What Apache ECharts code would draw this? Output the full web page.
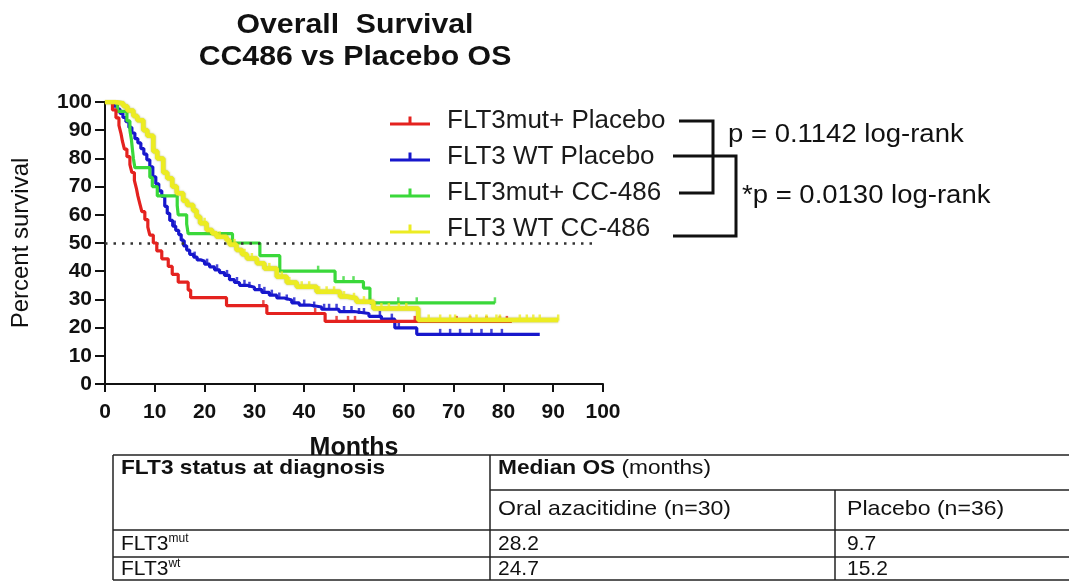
<!DOCTYPE html>
<html>
<head>
<meta charset="utf-8">
<title>Overall Survival — CC486 vs Placebo OS</title>
<script src="https://cdn.jsdelivr.net/npm/echarts@6/dist/echarts.min.js"></script>
<style>
  html, body { margin: 0; padding: 0; background: #ffffff; }
  #chart { width: 1069px; height: 581px; }
</style>
</head>
<body>
<div id="chart"></div>
<script>
// Kaplan–Meier step data: months at each event and survival (%) after it.
// The last point of each arm is its final censored follow-up time.
const mutPlaceboTime = [0, 1.5, 2.2, 2.8, 3.2, 3.5, 3.9, 4.4, 5.0, 5.4, 5.9, 6.3, 6.6, 7.0, 7.4, 8.0, 8.6, 9.0, 9.7, 10.4, 11.4, 12.7, 13.5, 14.7, 16.7, 17.2, 24.4, 32.5, 44.2, 81.7];
const mutPlaceboSurv = [100, 97.2, 94.4, 91.7, 88.9, 86.1, 83.3, 80.6, 77.8, 75.0, 72.2, 69.4, 66.7, 63.9, 61.1, 58.3, 55.6, 52.8, 50.0, 47.2, 44.4, 41.7, 38.9, 36.1, 33.3, 30.6, 27.8, 25.0, 22.2, 22.2];
const mutPlaceboCensor = [31.8, 42.2, 46.5, 48.8, 50.2, 62.2, 70.6, 73.3, 76.6, 79.3, 80.7];

const wtPlaceboTime = [0, 1, 1.8, 2.5, 3, 3.6, 4.2, 4.8, 5.4, 6, 6.6, 7.2, 7.8, 8.4, 9, 9.6, 10.2, 10.8, 11.4, 12, 12.5, 13, 13.6, 14.2, 14.8, 15.3, 15.8, 16.4, 17, 17.8, 18.5, 19.3, 20, 21, 22, 23, 24, 25, 26, 27, 28.5, 30, 31.5, 33, 34.5, 36, 37.5, 39, 41, 43.5, 47, 50, 53, 55.5, 58.2, 62.6, 87.3];
const wtPlaceboSurv = [100, 99.5, 98.5, 97.5, 96, 94.5, 93, 91, 89, 87, 85.5, 83.5, 81.5, 79.5, 77, 73.5, 71, 68.5, 66.5, 63, 60.5, 58, 56, 54.5, 53, 51, 49, 47.5, 46, 45, 44, 43.5, 42.5, 41.5, 40.5, 39.5, 38.5, 37, 36, 35, 34.3, 33.5, 32.5, 31.5, 30.5, 29.8, 28.8, 28, 27.3, 26.5, 25.7, 25, 24, 23, 19.9, 17.6, 17.6];
const wtPlaceboCensor = [14, 16, 18, 20.5, 22.5, 24.5, 26.5, 28, 29, 31, 32, 33.5, 35, 36.5, 38, 40, 42, 44, 45, 46.5, 48, 49.5, 51, 52, 55.2, 57.6, 59, 67.3, 69.3, 71.3, 73.6, 75.6, 77.6, 79.7];

const mutAzaTime = [0, 2.5, 4.4, 5.0, 5.3, 5.5, 5.7, 6.0, 9.0, 9.5, 10.5, 14.5, 14.7, 16.4, 16.7, 25.6, 31.1, 35.1, 46.2, 51.9, 53.2, 78.3];
const mutAzaSurv = [100, 96.7, 93.3, 90, 86.7, 83.3, 80, 76.7, 73.3, 70, 66.7, 63.3, 60, 56.7, 53.3, 50, 45.5, 40, 36.3, 34, 28.8, 28.8];
const mutAzaCensor = [42.8, 47.9, 49.9, 58.9, 62.6, 78.3];

const wtAzaTime = [0, 2, 3.7, 4.5, 5.7, 6.5, 7.7, 8.5, 9.7, 10.5, 11.7, 12.5, 13.5, 14.4, 15.7, 16.5, 17.7, 18.4, 19.1, 20.4, 21.5, 22.4, 24.4, 25, 26.4, 27.5, 28.5, 30.5, 32, 34.5, 36.5, 38.5, 42.5, 47.2, 48.5, 50.5, 53.9, 62.9, 91];
const wtAzaSurv = [100, 99.5, 98.5, 97, 95, 93.5, 90, 88, 82.5, 80, 75, 73, 70, 67.6, 65, 63.5, 61.5, 59.3, 57, 54.6, 53.5, 52.2, 51, 49.5, 47.5, 46, 44.5, 42.8, 41, 38, 36, 34.5, 32.7, 31, 30.4, 29.2, 26.8, 22.7, 22.7];
const wtAzaCensor = [20, 23, 26, 28, 29.5, 32, 33, 35.5, 37, 39.5, 41, 43, 44.5, 46, 48, 50, 52, 55.5, 57, 59, 60.5, 65, 67.3, 69.3, 70.3, 73.3, 74.6, 76.6, 78.6, 79.3, 83.3, 84.7, 86, 87.3, 91];

const armNames = ['FLT3mut+ Placebo', 'FLT3 WT Placebo', 'FLT3mut+ CC-486', 'FLT3 WT CC-486'];
const armColors = ['#e4221f', '#1717cc', '#3ad83a', '#ecec22'];

const xTicks = { min: 0, max: 100, interval: 10 };
const yTicks = { min: 0, max: 100, interval: 10 };
const medianLevel = 50;
const medianLineEnd = 98.5;

const titleLines = ['Overall  Survival', 'CC486 vs Placebo OS'];
const pValueTexts = ['p = 0.1142 log-rank', '*p = 0.0130 log-rank'];

// Median OS table
const tableHeadStatus = 'FLT3 status at diagnosis';
const tableHeadMedian = ['Median OS', ' (months)'];
const tableArms = ['Oral azacitidine (n=30)', 'Placebo (n=36)'];
const tableRowBase = ['FLT3', 'FLT3'];
const tableRowSup = ['mut', 'wt'];
const medianAza = [28.2, 24.7];
const medianPlacebo = [9.7, 15.2];

// ---------------------------------------------------------------
const FONT = '"Liberation Sans", Arial, Helvetica, sans-serif';

function pairs(times, surv) {
  return times.map((t, i) => [t, surv[i]]);
}
function survivalAt(times, surv, t) {
  let s = surv[0];
  for (let i = 0; i < times.length; i++) {
    if (times[i] <= t) s = surv[i]; else break;
  }
  return s;
}
function censorPoints(times, surv, censor) {
  return censor.map(t => [t, survivalAt(times, surv, t)]);
}

const arms = [
  { t: mutPlaceboTime, s: mutPlaceboSurv, c: mutPlaceboCensor },
  { t: wtPlaceboTime, s: wtPlaceboSurv, c: wtPlaceboCensor },
  { t: mutAzaTime, s: mutAzaSurv, c: mutAzaCensor },
  { t: wtAzaTime, s: wtAzaSurv, c: wtAzaCensor }
];

// drawing order: blue, green, red, yellow on top
const drawOrder = [1, 2, 0, 3];
const series = [];
drawOrder.forEach((k, idx) => {
  const a = arms[k];
  const isYellow = k === 3;
  const line = {
    name: armNames[k],
    type: 'line',
    step: 'end',
    data: pairs(a.t, a.s),
    showSymbol: false,
    symbol: 'none',
    z: 3 + idx,
    lineStyle: isYellow
      ? { color: armColors[k], width: 4.5, shadowColor: 'rgba(150,150,20,0.7)', shadowBlur: 2 }
      : { color: armColors[k], width: 3.2 },
    itemStyle: { color: armColors[k] },
    emphasis: { disabled: true },
    animation: false
  };
  if (idx === 0) {
    line.markLine = {
      silent: true,
      symbol: 'none',
      label: { show: false },
      lineStyle: { color: '#333', type: [2.5, 6], width: 2.5 },
      data: [[{ coord: [0, medianLevel] }, { coord: [medianLineEnd, medianLevel] }]]
    };
  }
  series.push(line);
  series.push({
    name: armNames[k] + ' censored',
    type: 'scatter',
    data: censorPoints(a.t, a.s, a.c),
    symbol: 'rect',
    symbolSize: [2.5, 6],
    symbolOffset: [0, -2.5],
    z: 3 + idx,
    itemStyle: { color: armColors[k] },
    emphasis: { disabled: true },
    animation: false
  });
});

const legendIcon = 'path://M0,7h40v3h-40z M18.5,1h3v7h-3z';

// table graphics
const tbl = { left: 113, right: 1069, top: 455, col1: 490, col2: 835, subHead: 490, headBottom: 530, row1Bottom: 557, bottom: 580 };
function hLine(x1, x2, y) {
  return { type: 'line', shape: { x1, y1: y, x2, y2: y }, style: { stroke: '#222', lineWidth: 1.5 }, silent: true };
}
function vLine(x, y1, y2) {
  return { type: 'line', shape: { x1: x, y1, x2: x, y2 }, style: { stroke: '#222', lineWidth: 1.5 }, silent: true };
}
// text placed at (x, y); horizontal stretch applied about that anchor point
function txt(x, y, text, opts, stretch) {
  return {
    type: 'text', x, y, silent: true, scaleX: stretch || 1,
    style: Object.assign({ text, fill: '#111', font: '21px ' + FONT, textAlign: 'left', textVerticalAlign: 'middle' }, opts || {})
  };
}

const rowY = [544, 569];
const graphics = [
  // title
  txt(355, 25, titleLines[0], { font: 'bold 28px ' + FONT, textAlign: 'center' }, 1.08),
  txt(355, 57, titleLines[1], { font: 'bold 28px ' + FONT, textAlign: 'center' }, 1.08),
  // comparison brackets
  { type: 'polyline', silent: true, shape: { points: [[679, 121], [713, 121], [713, 193], [679, 193]] }, style: { stroke: '#111', lineWidth: 3, fill: null } },
  { type: 'polyline', silent: true, shape: { points: [[673, 156], [736, 156], [736, 236], [673, 236]] }, style: { stroke: '#111', lineWidth: 3, fill: null } },
  txt(728, 135, pValueTexts[0], { font: '25px ' + FONT }, 1.1),
  txt(742, 196, pValueTexts[1], { font: '25px ' + FONT }, 1.1),
  // table frame
  hLine(tbl.left, tbl.right, tbl.top),
  hLine(tbl.col1, tbl.right, tbl.subHead),
  hLine(tbl.left, tbl.right, tbl.headBottom),
  hLine(tbl.left, tbl.right, tbl.row1Bottom),
  hLine(tbl.left, tbl.right, tbl.bottom),
  vLine(tbl.left, tbl.top, tbl.bottom),
  vLine(tbl.col1, tbl.top, tbl.bottom),
  vLine(tbl.col2, tbl.subHead, tbl.bottom),
  // table text
  txt(121, 468, tableHeadStatus, { font: 'bold 21px ' + FONT }, 1.08),
  {
    type: 'text', x: 498, y: 468, silent: true, scaleX: 1.08,
    style: {
      text: '{b|' + tableHeadMedian[0] + '}{n|' + tableHeadMedian[1] + '}',
      textVerticalAlign: 'middle',
      rich: {
        b: { font: 'bold 21px ' + FONT, fill: '#111' },
        n: { font: '21px ' + FONT, fill: '#111' }
      }
    }
  },
  txt(498, 509, tableArms[0], null, 1.1),
  txt(847, 509, tableArms[1], null, 1.1)
];
rowY.forEach((y, i) => {
  graphics.push({
    type: 'text', x: 121, y, silent: true,
    style: {
      text: '{a|' + tableRowBase[i] + '}{s|' + tableRowSup[i] + '}',
      textVerticalAlign: 'middle',
      rich: {
        a: { font: '21px ' + FONT, fill: '#111', lineHeight: 22 },
        s: { font: '12px ' + FONT, fill: '#111', lineHeight: 22, verticalAlign: 'top' }
      }
    }
  });
  graphics.push(txt(498, y, medianAza[i].toFixed(1)));
  graphics.push(txt(847, y, medianPlacebo[i].toFixed(1)));
});

const chart = echarts.init(document.getElementById('chart'), null, { renderer: 'canvas' });
chart.setOption({
  backgroundColor: '#ffffff',
  animation: false,
  textStyle: { fontFamily: FONT },
  grid: { left: 105, top: 102, width: 498, height: 282, containLabel: false },
  legend: {
    orient: 'vertical',
    left: 390,
    top: 108,
    padding: 0,
    itemWidth: 40,
    itemHeight: 10,
    itemGap: 10,
    selectedMode: false,
    data: armNames.map((n, i) => ({ name: n, icon: legendIcon, itemStyle: { color: armColors[i] } })),
    textStyle: { fontSize: 26, color: '#1a1a1a', fontFamily: FONT, padding: [0, 0, 0, 12] }
  },
  xAxis: {
    type: 'value',
    min: xTicks.min, max: xTicks.max, interval: xTicks.interval,
    name: 'Months',
    nameLocation: 'middle',
    nameGap: 52,
    nameTextStyle: { fontSize: 25, fontWeight: 'bold', color: '#111', fontFamily: FONT },
    axisLine: { onZero: false, lineStyle: { color: '#111', width: 2 } },
    axisTick: { length: 8, lineStyle: { color: '#111', width: 2 } },
    axisLabel: { fontSize: 21, fontWeight: 'bold', color: '#111', margin: 18, fontFamily: FONT },
    splitLine: { show: false }
  },
  yAxis: {
    type: 'value',
    min: yTicks.min, max: yTicks.max, interval: yTicks.interval,
    name: 'Percent survival',
    nameLocation: 'middle',
    nameGap: 72,
    nameRotate: 90,
    nameTextStyle: { fontSize: 24, color: '#111', fontFamily: FONT },
    axisLine: { onZero: false, lineStyle: { color: '#111', width: 2 } },
    axisTick: { length: 10, lineStyle: { color: '#111', width: 2 } },
    axisLabel: { fontSize: 21, fontWeight: 'bold', color: '#111', margin: 13, fontFamily: FONT },
    splitLine: { show: false }
  },
  series: series,
  graphic: graphics
});
</script>
</body>
</html>
